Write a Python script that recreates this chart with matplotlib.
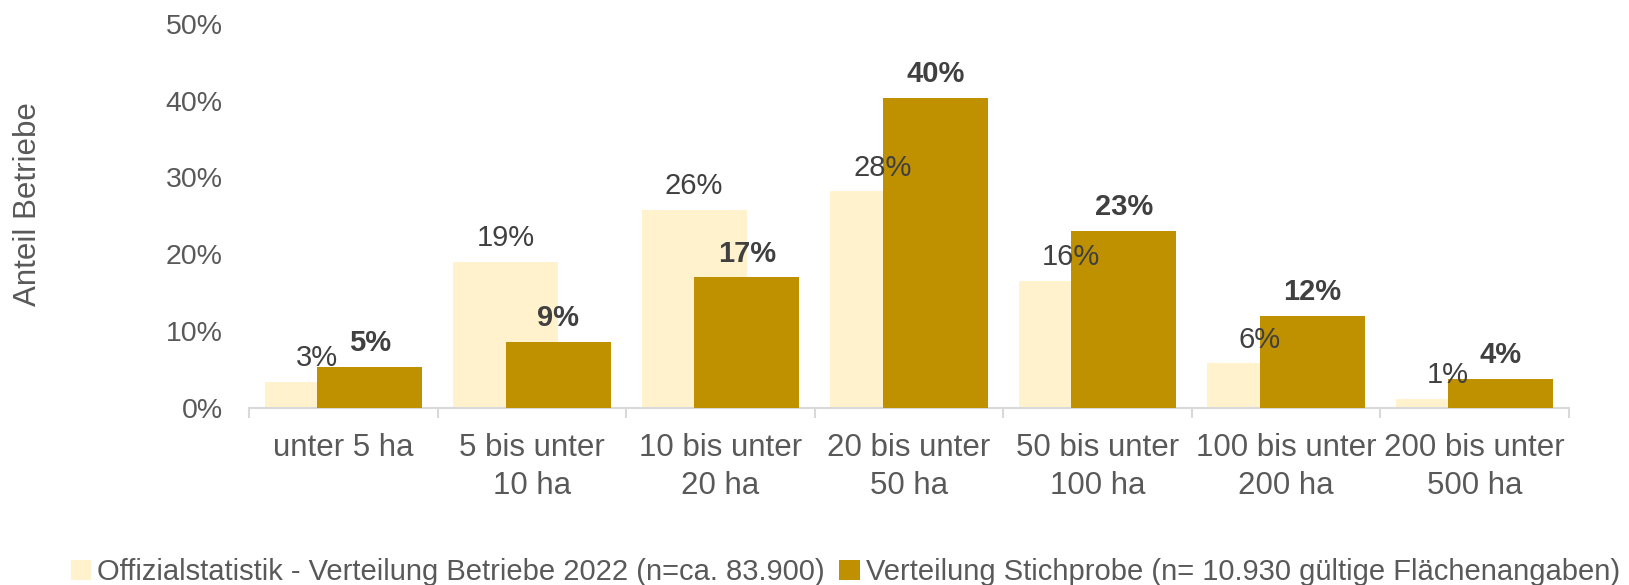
import numpy as np
from matplotlib import pyplot as plt

categories = ['unter 5 ha', '5 bis unter\n10 ha', '10 bis unter\n20 ha', '20 bis unter\n50 ha',
              '50 bis unter\n100 ha', '100 bis unter\n200 ha', '200 bis unter\n500 ha']
official = [3.4, 19.0, 25.8, 28.2, 16.5, 5.8, 1.2]
sample = [5.3, 8.6, 17.0, 40.4, 23.0, 12.0, 3.8]
official_name = 'Offizialstatistik - Verteilung Betriebe 2022 (n=ca. 83.900)'
sample_name = 'Verteilung Stichprobe (n= 10.930 gültige Flächenangaben)'

LIGHT = '#FFF2CC'
DARK = '#BF9000'
TEXT = '#595959'
LABEL = '#404040'
FS = 22.5

plt.rcParams['font.family'] = ['Liberation Sans', 'DejaVu Sans']

fig = plt.figure(figsize=(16.29, 5.85), dpi=100)
ax = fig.add_axes([0.153, 0.303, 0.81, 0.656])

x = np.arange(len(categories))
w = 0.557
b1 = ax.bar(x - 0.14, official, w, color=LIGHT, label=official_name, zorder=2)
b2 = ax.bar(x + 0.14, sample, w, color=DARK, label=sample_name, zorder=3)

for rect, v in zip(b1, official):
    ax.annotate(f'{v:.0f}%', (rect.get_x() + rect.get_width() / 2, v), xytext=(0, 7),
                textcoords='offset points', ha='center', va='bottom', fontsize=21, color=LABEL, zorder=4)
for rect, v in zip(b2, sample):
    ax.annotate(f'{v:.0f}%', (rect.get_x() + rect.get_width() / 2, v), xytext=(0, 7),
                textcoords='offset points', ha='center', va='bottom', fontsize=21, color=LABEL,
                fontweight='bold', zorder=4)

ax.set_xlim(-0.5, len(categories) - 0.5)
ax.set_ylim(0, 50)
ax.set_yticks(range(0, 51, 10))
ax.set_yticklabels([f'{t}%' for t in range(0, 51, 10)])
ax.set_xticks(x)
ax.set_xticklabels(categories, linespacing=1.35)
ax.set_xticks(np.arange(-0.5, len(categories)), minor=True)
ax.tick_params(axis='x', which='major', length=0, pad=18, labelsize=FS, labelcolor=TEXT)
ax.tick_params(axis='x', which='minor', length=7, color='#D9D9D9', width=1.5)
ax.tick_params(axis='y', length=0, labelsize=20.5, labelcolor=TEXT, pad=19)
for s in ['top', 'right', 'left']:
    ax.spines[s].set_visible(False)
ax.spines['bottom'].set_color('#D9D9D9')
ax.spines['bottom'].set_linewidth(1.5)
ax.set_ylabel('Anteil Betriebe', fontsize=FS, color=TEXT)
ax.yaxis.set_label_coords(-0.156, 0.53)

fig.legend(loc='center', bbox_to_anchor=(0.519, 0.022), ncol=2, frameon=False, fontsize=21,
           labelcolor=TEXT, handlelength=0.7, handleheight=0.7, handletextpad=0.2,
           columnspacing=0.5)

fig.savefig('out.png', dpi=100)
